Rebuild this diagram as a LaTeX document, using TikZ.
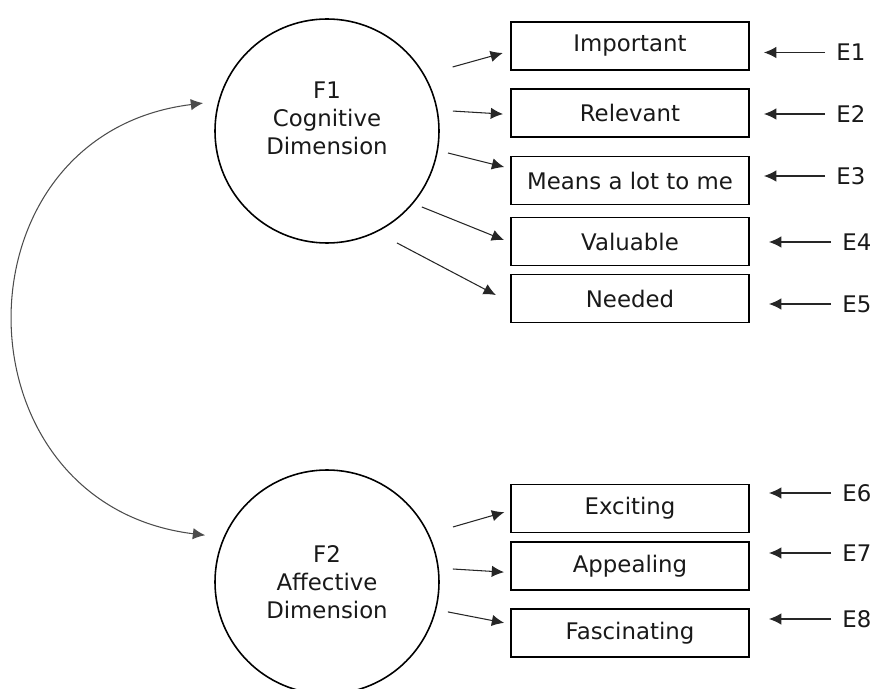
\documentclass[tikz,border=0pt]{standalone}
\usepackage{fontspec}
\setmainfont{DejaVu Sans}
\usetikzlibrary{arrows.meta}

\begin{document}
\begin{tikzpicture}[> = {Latex[length=7pt, width=6.5pt]},
	font = \fontsize{13}{16}\selectfont,
	factor/.style = {draw, circle, line width=0.9pt, minimum size=4.48cm, inner sep=0pt},
	factor text/.style = {align=center, text=black!90},
	item/.style = {draw, line width=1.1pt, minimum width=4.76cm, minimum height=0.96cm, text=black!90},
	error/.style = {anchor=west, inner xsep=0.22cm, text=black!90},
	load/.style = {->, line width=0.6pt, black!85}]

	\useasboundingbox (0, 0) rectangle (17.4, 13.76);

	% Factors
	\node [factor, label = {[factor text, yshift = 0.26cm]center:F1\\Cognitive\\Dimension}] (F1) at (6.54, 11.14) {};
	\node [factor, label = {[factor text]center:F2\\Affective\\Dimension}] (F2) at (6.54, 2.12) {};

	% Indicators
	\node [item] (important) at (12.6, 12.84) {Important};
	\node [item] (relevant) at (12.6, 11.5) {Relevant};
	\node [item] (means) at (12.6, 10.15) {Means a lot to me};
	\node [item] (valuable) at (12.6, 8.93) {Valuable};
	\node [item] (needed) at (12.6, 7.79) {Needed};

	\node [item] (exciting) at (12.6, 3.59) {Exciting};
	\node [item] (appealing) at (12.6, 2.44) {Appealing};
	\node [item] (fascinating) at (12.6, 1.1) {Fascinating};

	% Error terms
	\node [error] (E1) at (16.5, 12.71) {E1};
	\node [error] (E2) at (16.5, 11.48) {E2};
	\node [error] (E3) at (16.5, 10.24) {E3};
	\node [error] (E4) at (16.62, 8.92) {E4};
	\node [error] (E5) at (16.62, 7.68) {E5};
	\node [error] (E6) at (16.62, 3.9) {E6};
	\node [error] (E7) at (16.62, 2.7) {E7};
	\node [error] (E8) at (16.62, 1.38) {E8};

	\begin{scope}[load]

		% Loadings
		\draw [shorten >= 0.15cm] ([shift = {(27 : 2.82)}] F1.center) -- ([yshift = -0.10cm] important.west);
		\draw [shorten >= 0.14cm] ([shift = {(9 : 2.55)}] F1.center) -- ([yshift = -0.03cm] relevant.west);
		\draw [shorten >= 0.12cm] ([shift = {(-10.3 : 2.46)}] F1.center) -- ([yshift = 0.24cm] means.west);
		\draw [shorten >= 0.13cm] ([shift = {(-38.7 : 2.43)}] F1.center) -- ([yshift = -0.02cm] valuable.west);
		\draw [shorten >= 0.32cm] ([shift = {(-58 : 2.64)}] F1.center) -- ([yshift = -0.08cm] needed.west);

		\draw [shorten >= 0.12cm] ([shift = {(23.6 : 2.75)}] F2.center) -- ([yshift = -0.04cm] exciting.west);
		\draw [shorten >= 0.12cm] ([shift = {(5.9 : 2.53)}] F2.center) -- ([yshift = -0.13cm] appealing.west);
		\draw [shorten >= 0.12cm] ([shift = {(-13.9 : 2.49)}] F2.center) -- ([yshift = 0.18cm] fascinating.west);

		% Errors
		\draw [shorten >= 0.28cm] (E1.west) -- (E1.west -| important.east);
		\draw [shorten >= 0.28cm] (E2.west) -- (E2.west -| relevant.east);
		\draw [shorten >= 0.28cm] (E3.west) -- (E3.west -| means.east);
		\draw [shorten >= 0.38cm] (E4.west) -- (E4.west -| valuable.east);
		\draw [shorten >= 0.38cm] (E5.west) -- (E5.west -| needed.east);
		\draw [shorten >= 0.38cm] (E6.west) -- (E6.west -| exciting.east);
		\draw [shorten >= 0.38cm] (E7.west) -- (E7.west -| appealing.east);
		\draw [shorten >= 0.38cm] (E8.west) -- (E8.west -| fascinating.east);

		% Covariance
		\draw [<->, black!70] ([shift = {(167.3 : 2.54)}] F1.center) to [out = 187, in = 173, looseness = 1.51] ([shift = {(159 : 2.61)}] F2.center);

	\end{scope}

\end{tikzpicture}
\end{document}
